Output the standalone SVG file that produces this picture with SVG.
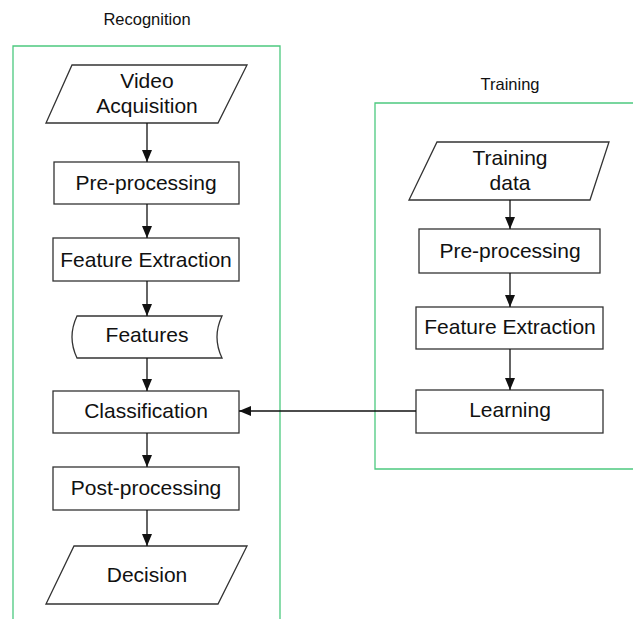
<svg xmlns="http://www.w3.org/2000/svg" width="633" height="619" viewBox="0 0 633 619">
  <style>
    .frame { fill: none; stroke: #4cc97f; stroke-width: 1.3; }
    .shape { fill: #ffffff; stroke: #333333; stroke-width: 1.3; }
    .label { font-family: "Liberation Sans", Arial, sans-serif; font-size: 16.5px; fill: #111111; text-anchor: middle; }
    .txt { font-family: "Liberation Sans", Arial, sans-serif; font-size: 21px; fill: #111111; text-anchor: middle; }
    .edge { fill: none; stroke: #111111; stroke-width: 1.3; marker-end: url(#arrow); }
  </style>
  <defs>
    <marker id="arrow" markerWidth="12" markerHeight="10" refX="12" refY="5" orient="auto" markerUnits="userSpaceOnUse">
      <path d="M0,0 L12,5 L0,10 Z" fill="#111111"/>
    </marker>
  </defs>
  <rect width="633" height="619" fill="#ffffff"/>

  <!-- swimlane frames -->
  <g id="recognition-lane">
    <path class="frame" d="M13,619 V46 H280 V619"/>
    <text class="label" x="147" y="25">Recognition</text>
  </g>
  <g id="training-lane">
    <path class="frame" d="M633,103 H375 V469 H633"/>
    <text class="label" x="510" y="90">Training</text>
  </g>

  <!-- recognition pipeline -->
  <g id="video-acquisition">
    <polygon class="shape" points="72,65 247,65 218,123 46,123"/>
    <text class="txt" x="147" y="88">Video</text>
    <text class="txt" x="147" y="113">Acquisition</text>
  </g>
  <g id="rec-preprocessing">
    <rect class="shape" x="54" y="162" width="185" height="42"/>
    <text class="txt" x="146" y="190">Pre-processing</text>
  </g>
  <g id="rec-feature-extraction">
    <rect class="shape" x="53" y="238" width="186" height="43"/>
    <text class="txt" x="146" y="267">Feature Extraction</text>
  </g>
  <g id="features">
    <path class="shape" d="M77,316 H222 Q212,337 222,358 H77 Q67,337 77,316 Z"/>
    <text class="txt" x="147" y="342">Features</text>
  </g>
  <g id="classification">
    <rect class="shape" x="53" y="391" width="186" height="42"/>
    <text class="txt" x="146" y="418">Classification</text>
  </g>
  <g id="post-processing">
    <rect class="shape" x="53" y="467" width="186" height="43"/>
    <text class="txt" x="146" y="495">Post-processing</text>
  </g>
  <g id="decision">
    <polygon class="shape" points="74,546 247,546 218,604 46,604"/>
    <text class="txt" x="147" y="582">Decision</text>
  </g>

  <!-- training pipeline -->
  <g id="training-data">
    <polygon class="shape" points="437,142 609,142 590,200 409,200"/>
    <text class="txt" x="510" y="165">Training</text>
    <text class="txt" x="510" y="190">data</text>
  </g>
  <g id="train-preprocessing">
    <rect class="shape" x="419" y="229" width="181" height="44"/>
    <text class="txt" x="510" y="258">Pre-processing</text>
  </g>
  <g id="train-feature-extraction">
    <rect class="shape" x="416" y="307" width="187" height="42"/>
    <text class="txt" x="510" y="334">Feature Extraction</text>
  </g>
  <g id="learning">
    <rect class="shape" x="416" y="390" width="187" height="43"/>
    <text class="txt" x="510" y="417">Learning</text>
  </g>

  <!-- connectors -->
  <g id="connectors">
    <line class="edge" x1="147" y1="123" x2="147" y2="162"/>
    <line class="edge" x1="147" y1="204" x2="147" y2="238"/>
    <line class="edge" x1="147" y1="281" x2="147" y2="316"/>
    <line class="edge" x1="147" y1="358" x2="147" y2="391"/>
    <line class="edge" x1="147" y1="433" x2="147" y2="467"/>
    <line class="edge" x1="147" y1="510" x2="147" y2="546"/>
    <line class="edge" x1="510" y1="200" x2="510" y2="229"/>
    <line class="edge" x1="510" y1="273" x2="510" y2="307"/>
    <line class="edge" x1="510" y1="349" x2="510" y2="390"/>
    <line class="edge" x1="416" y1="411" x2="239" y2="411"/>
  </g>
</svg>
